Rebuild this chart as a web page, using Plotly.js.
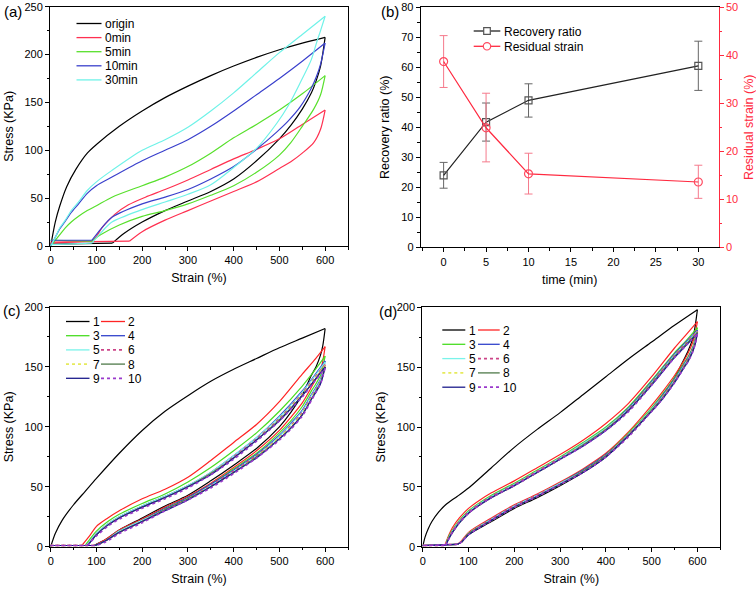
<!DOCTYPE html>
<html><head><meta charset="utf-8">
<script src="https://cdn.plot.ly/plotly-3.0.1.min.js"></script>
<style>html,body{margin:0;padding:0;background:#fff}#chart{width:756px;height:589px}</style>
</head><body><div id="chart"></div>
<script>
// ---------------- Panel (a) data ----------------
const aLabels = ['origin', '0min', '5min', '10min', '30min'];
const aColors = ['#000000', '#ff3050', '#58e02c', '#3a40cc', '#6ff2e8'];
const aOriginLoadX = [0,10,20,35,55,80,100,150,200,250,300,350,400,450,500,550,600];
const aOriginLoadY = [0,25,42,62,80,97,106,125,141,155,167,178,188,197,205,212,218];
const aOriginUnloadX = [590,580,570,550,525,500,450,400,350,300,250,200,160,135,0];
const aOriginUnloadY = [188,172,160,143,126,112,89,70,57,47,37,25,13,3,2];
const a0LoadX = [0,90,100,112,125,140,170,207,250,300,350,400,450,500,550,600];
const a0LoadY = [3,5,10,19,26,33,43,51,59,69,80,91,101,112,127,142];
const a0UnloadX = [590,575,550,525,500,450,400,350,300,250,200,172,0];
const a0UnloadY = [122,108,97,88,81,67,57,47,37,27,15,5,4];
const aLoadX = [0,10,20,32,45,61,80,100,134,200,250,300,350,400,450,500,550,600];
const a5LoadY = [0,6,12,19,25,31,37,42,51,63,72,83,97,113,127,142,159,178];
const a5UnloadX = [590,575,550,525,500,450,400,350,300,250,200,150,110,90,0];
const a5UnloadY = [158,143,125,108,95,77,63,53,44,37,31,22,12,5,6];
const a10LoadY = [0,9,18,26,35,44,55,63,72,89,100,111,125,141,158,175,193,212];
const aUnloadX = [590,581,570,545,520,494,450,400,350,300,250,200,134,110,90,0];
const a10UnloadY = [190,177,165,145,131,119,101,83,70,59,51,44,30,18,6,6];
const a30LoadY = [0,9,19,27,37,46,58,67,79,100,111,124,141,160,181,202,221,240];
const a30UnloadY = [225,212,195,170,147,128,102,82,64,54,46,38,25,14,3,1.5];

// ---------------- Panel (b) data ----------------
const times = [0, 5, 10, 30];
const recovery = [24.0, 41.7, 49.0, 60.5];
const recoveryErrPlus = [4.3, 6.4, 5.5, 8.2];
const recoveryErrMinus = [4.3, 6.3, 5.6, 8.2];
const residual = [38.7, 24.9, 15.3, 13.6];
const residualErrPlus = [5.4, 7.2, 4.3, 3.5];
const residualErrMinus = [5.4, 7.1, 4.2, 3.4];
const bLabels = ['Recovery ratio', 'Residual strain'];

// ---------------- Panels (c),(d) shared ----------------
const cycleLabels = ['1','2','3','4','5','6','7','8','9','10'];
const cycleColors = ['#000000','#ff2424','#48dd22','#3344cc','#7af3ea','#cc4488','#e6ea5c','#4f7a4a','#1c1c8c','#9a3acc'];
const cycleDash = ['solid','solid','solid','solid','solid','dot','dot','solid','solid','dot'];

// ---------------- Panel (c) data ----------------
const cFirstLoadX = [0,10,25,50,75,100,150,200,250,300,350,400,450,500,550,600];
const cFirstLoadY = [0,11,22,35,46,57,78,97,113,126,138,148,157,166,174,182];
const cLoadX = [85,100,125,150,200,250,300,350,400,450,500,550,575,600];
const cOnsetX = [68,75,78,78,80,80,80,80,80];
const cLoad2 = [9,17,24,30,40,48,58,72,87,102,121,144,155,167];
const cLoad3 = [6,13,21,27,36,44,54,66,80,95,113,134,146,159];
const cLoad4 = [4,11,19,25,34,42,51,62,76,91,109,130,142,155];
const cLoad5 = [4,11,19,25,34,42,51,62,76,91,108,129,141,154];
const cLoad6 = [3,10,18,24,33,41,50,61,75,90,107,128,140,152];
const cLoad7 = [3,10,18,24,33,41,50,61,74,89,106,127,139,151];
const cLoad8 = [3,10,18,24,33,41,50,61,74,89,106,126,138,150];
const cLoad9 = [3,10,18,24,33,41,50,60,74,89,105,126,138,150];
const cLoad10 = [3,9,17,23,32,40,49,60,73,88,105,125,137,149];
const cUnloadX = [595,590,580,570,550,525,500,450,400,350,300,250,200,150,120,100];
const cEndX = [95,92,93,94,94,95,95,95,95,95];
const cUnload1 = [168,160,150,143,127,112,100,82,68,55,43,34,24,14,6,2];
const cUnload2 = [155,147,140,133,120,108,97,80,66,53,42,33,23,14,6,2];
const cUnload3 = [150,143,136,130,117,105,95,78,65,52,41,32,22,13,5,1.5];
const cUnload4 = [146,140,133,127,114,103,93,77,64,52,41,32,22,13,5,1.5];
const cUnload5 = [145,139,132,126,113,102,92,76,63,51,40,31,22,13,5,1.5];
const cUnload6 = [144,138,131,125,112,101,91,76,63,51,40,31,21,12,5,1.5];
const cUnload7 = [143,137,130,124,111,100,91,75,62,50,40,31,21,12,5,1.5];
const cUnload8 = [143,137,130,123,110,99,90,75,62,50,40,31,21,12,5,1.5];
const cUnload9 = [142,136,129,123,110,99,90,74,62,50,39,30,21,12,5,1.5];
const cUnload10 = [142,136,129,122,109,98,89,74,61,49,39,30,20,11,4,1];
const cBaseY = 1;

// ---------------- Panel (d) data ----------------
const dFirstLoadX = [0,5,12,20,35,50,75,100,150,200,250,300,350,400,450,500,550,600];
const dFirstLoadY = [0,8,15,21,29,35,42,49,66,83,98,112,127,142,157,171,185,198];
const dLoadX = [55,65,80,100,125,150,200,250,300,350,400,450,500,550,575,600];
const dOnsetX = [48,50,50,50,50,50,50,50,50];
const dLoad2 = [8,16,24,32,39,45,55,66,77,89,103,120,142,166,177,188];
const dLoad3 = [7,14,22,30,37,43,53,64,75,87,100,117,139,162,172,183];
const dLoad4 = [6,13,21,29,36,42,52,63,74,86,99,116,138,161,171,181];
const dLoad5 = [6,13,21,29,36,42,52,63,74,86,99,115,137,160,170,180];
const dLoad6 = [6,13,21,29,36,42,52,63,74,85,98,115,137,160,170,180];
const dLoad7 = [6,12,20,28,35,41,51,62,73,85,98,114,136,159,169,179];
const dLoad8 = [6,12,20,28,35,41,51,62,73,85,98,114,136,159,169,179];
const dLoad9 = [5,12,20,28,35,41,51,62,73,84,97,114,135,158,168,178];
const dLoad10 = [5,12,20,28,35,41,51,62,73,84,97,113,135,158,168,178];
const dUnloadX = [595,590,580,570,550,525,500,450,400,350,300,250,200,150,100,85];
const dEndX = [75,76,76,76,76,76,76,76,76,76];
const dUnload1 = [184,174,164,156,141,127,114,93,75,62,51,41,32,21,10,4];
const dUnload2 = [178,171,162,155,143,130,118,96,78,65,54,44,35,24,12,5];
const dUnload3 = [174,167,159,153,141,128,116,95,77,64,53,43,34,23,11,4];
const dUnload4 = [172,166,158,152,140,127,115,94,77,64,53,43,34,23,11,4];
const dUnload5 = [171,165,157,151,139,126,115,94,76,63,53,43,34,23,11,4];
const dUnload6 = [171,165,157,151,139,126,114,94,76,63,52,43,34,23,11,4];
const dUnload7 = [170,164,156,150,138,125,114,93,76,63,52,42,33,22,11,4];
const dUnload8 = [170,164,156,150,138,125,114,93,76,63,52,42,33,22,11,4];
const dUnload9 = [169,163,155,149,137,124,113,93,75,62,52,42,33,22,10,4];
const dUnload10 = [169,163,155,149,137,124,113,92,75,62,52,42,33,22,10,4];
const dBaseY = 1;

// ---------------- build ----------------
const FONT = 'Liberation Sans, Arial, sans-serif';
const W = 756, H = 589;
const px = v => v / W;
const py = v => 1 - v / H;

const traces = [];
function seg(x, y, color, dash, xa, ya, width, spline) {
  if (x.length < 2) return;
  traces.push({x: x, y: y, type: 'scatter', mode: 'lines', xaxis: xa, yaxis: ya,
    line: {color: color, width: width || 1.2, dash: dash || 'solid', shape: spline ? 'spline' : 'linear', smoothing: 0.8},
    showlegend: false, hoverinfo: 'skip'});
}
// loop = loading (spline) + unloading (spline) with linear flat parts at start (fs points) and end (fe points)
function addLoop(loadX, loadY, unloadX, unloadY, fs, fe, color, dash, xa, ya, width) {
  const tip = loadX.length - 1;
  if (fs > 0) seg(loadX.slice(0, fs + 1), loadY.slice(0, fs + 1), color, dash, xa, ya, width, false);
  seg(loadX.slice(fs), loadY.slice(fs), color, dash, xa, ya, width, true);
  const ux = [loadX[tip]].concat(unloadX), uy = [loadY[tip]].concat(unloadY);
  const n = ux.length;
  seg(ux.slice(0, n - fe), uy.slice(0, n - fe), color, dash, xa, ya, width, true);
  if (fe > 0) seg(ux.slice(n - fe - 1), uy.slice(n - fe - 1), color, dash, xa, ya, width, false);
}

// Panel (a)
addLoop(aOriginLoadX, aOriginLoadY, aOriginUnloadX, aOriginUnloadY, 0, 1, aColors[0], 'solid', 'x', 'y');
addLoop(a0LoadX, a0LoadY, a0UnloadX, a0UnloadY, 1, 1, aColors[1], 'solid', 'x', 'y');
addLoop(aLoadX, a5LoadY, a5UnloadX, a5UnloadY, 0, 1, aColors[2], 'solid', 'x', 'y');
addLoop(aLoadX, a10LoadY, aUnloadX, a10UnloadY, 0, 1, aColors[3], 'solid', 'x', 'y');
addLoop(aLoadX, a30LoadY, aUnloadX, a30UnloadY, 0, 1, aColors[4], 'solid', 'x', 'y');

// Panel (b)
traces.push({x: times, y: recovery, type: 'scatter', mode: 'lines+markers', xaxis: 'x2', yaxis: 'y2',
  line: {color: '#222', width: 1.2},
  marker: {symbol: 'square-open', size: 7, color: '#555', line: {width: 1.2}},
  error_y: {type: 'data', symmetric: false, array: recoveryErrPlus, arrayminus: recoveryErrMinus,
    color: '#666', thickness: 1, width: 4}, showlegend: false});
traces.push({x: times, y: residual, type: 'scatter', mode: 'lines+markers', xaxis: 'x2', yaxis: 'y5',
  line: {color: '#ff2a40', width: 1.2},
  marker: {symbol: 'circle-open', size: 8, color: '#ff4a60', line: {width: 1.2}},
  error_y: {type: 'data', symmetric: false, array: residualErrPlus, arrayminus: residualErrMinus,
    color: '#f57a8c', thickness: 1, width: 4}, showlegend: false});

// Panels (c),(d)
function addCycles(firstX, firstY, loadX, onsetX, loads, unloadX, unloads, endX, baseY, endY, xa, ya) {
  for (let k = 0; k < 10; k++) {
    let lx, ly, fs;
    if (k === 0) { lx = firstX; ly = firstY; fs = 0; }
    else { lx = [0, onsetX[k-1]].concat(loadX); ly = [baseY, baseY].concat(loads[k]); fs = 1; }
    const ux = unloadX.concat([endX[k], 0]);
    const uy = unloads[k].concat([endY, baseY]);
    const w = cycleDash[k] === 'dot' ? 1.6 : 1.2;
    addLoop(lx, ly, ux, uy, fs, 1, cycleColors[k], cycleDash[k], xa, ya, w);
  }
}
addCycles(cFirstLoadX, cFirstLoadY, cLoadX, cOnsetX,
  [null, cLoad2, cLoad3, cLoad4, cLoad5, cLoad6, cLoad7, cLoad8, cLoad9, cLoad10],
  cUnloadX, [cUnload1, cUnload2, cUnload3, cUnload4, cUnload5, cUnload6, cUnload7, cUnload8, cUnload9, cUnload10],
  cEndX, cBaseY, cBaseY, 'x3', 'y3');
addCycles(dFirstLoadX, dFirstLoadY, dLoadX, dOnsetX,
  [null, dLoad2, dLoad3, dLoad4, dLoad5, dLoad6, dLoad7, dLoad8, dLoad9, dLoad10],
  dUnloadX, [dUnload1, dUnload2, dUnload3, dUnload4, dUnload5, dUnload6, dUnload7, dUnload8, dUnload9, dUnload10],
  dEndX, dBaseY, dBaseY + 1, 'x4', 'y4');

// ---------------- axes ----------------
function ax(extra) {
  return Object.assign({
    showline: true, linecolor: '#000', linewidth: 1, mirror: true,
    ticks: 'outside', ticklen: 4, tickwidth: 1, tickcolor: '#000',
    showgrid: false, zeroline: false, fixedrange: true,
    tickfont: {family: FONT, size: 11, color: '#000'}
  }, extra);
}
function minor(d, color) { return {dtick: d, ticks: 'outside', ticklen: 2.5, tickcolor: color || '#000', tickwidth: 1, showgrid: false}; }
function ttl(text, standoff, color) { return {text: text, standoff: standoff, font: {family: FONT, size: 12.5, color: color || '#000'}}; }

const layout = {
  width: W, height: H, margin: {l: 0, r: 0, t: 0, b: 0},
  paper_bgcolor: '#fff', plot_bgcolor: '#fff', showlegend: false,
  font: {family: FONT, color: '#000'},
  xaxis: ax({domain: [px(50), px(348)], range: [-1.5, 650], anchor: 'y', tick0: 0, dtick: 100, minor: minor(50), title: ttl('Strain (%)', 8)}),
  yaxis: ax({domain: [py(246), py(6.7)], range: [0, 250], anchor: 'x', tick0: 0, dtick: 50, minor: minor(25), title: ttl('Stress (KPa)', 8)}),
  xaxis2: ax({domain: [px(420.7), px(718.7)], range: [-2.7, 32.4], anchor: 'y2', tick0: 0, dtick: 5, minor: minor(2.5), title: ttl('time (min)', 8)}),
  yaxis2: ax({domain: [py(247.3), py(7.3)], range: [0, 80], anchor: 'x2', mirror: false, tick0: 0, dtick: 10, minor: minor(5), title: ttl('Recovery ratio (%)', 8)}),
  yaxis5: ax({overlaying: 'y2', side: 'right', anchor: 'x2', range: [0, 50], mirror: false, linecolor: '#ff2a40', tickcolor: '#ff2a40',
    tick0: 0, dtick: 10, minor: minor(5, '#ff2a40'), tickfont: {family: FONT, size: 11, color: '#ff2a40'}, title: ttl('Residual strain (%)', 8, '#ff2a40')}),
  xaxis3: ax({domain: [px(50), px(348)], range: [-1.5, 650], anchor: 'y3', tick0: 0, dtick: 100, minor: minor(50), title: ttl('Strain (%)', 8)}),
  yaxis3: ax({domain: [py(546.7), py(307)], range: [0, 200], anchor: 'x3', tick0: 0, dtick: 50, minor: minor(25), title: ttl('Stress (KPa)', 8)}),
  xaxis4: ax({domain: [px(422.3), px(720.3)], range: [-1, 650], anchor: 'y4', tick0: 0, dtick: 100, minor: minor(50), title: ttl('Strain (%)', 8)}),
  yaxis4: ax({domain: [py(546.7), py(307.3)], range: [0, 200], anchor: 'x4', tick0: 0, dtick: 50, minor: minor(25), title: ttl('Stress (KPa)', 8)}),
  shapes: [], annotations: []
};

// panel letters
[['(a)', 1.5, 12], ['(b)', 379, 12], ['(c)', 1, 310], ['(d)', 377, 311]].forEach(p => {
  layout.annotations.push({text: p[0], xref: 'paper', yref: 'paper', x: px(p[1]), y: py(p[2]),
    xanchor: 'left', yanchor: 'middle', showarrow: false, font: {family: FONT, size: 15, color: '#000'}});
});

function legendItem(x0, x1, yPix, color, dash, tx, label, size) {
  layout.shapes.push({type: 'line', xref: 'paper', yref: 'paper', x0: px(x0), x1: px(x1), y0: py(yPix), y1: py(yPix),
    line: {color: color, width: dash === 'dot' ? 1.8 : 1.3, dash: dash}});
  layout.annotations.push({text: label, xref: 'paper', yref: 'paper', x: px(tx), y: py(yPix + 0.5),
    xanchor: 'left', yanchor: 'middle', showarrow: false, font: {family: FONT, size: size, color: '#000'}});
}
// legend (a)
aLabels.forEach((lab, i) => legendItem(76.5, 101.5, 23.5 + i * 14.1, aColors[i], 'solid', 103, lab, 12));
// legend (b)
legendItem(473.7, 500.3, 31, '#222', 'solid', 502, bLabels[0], 12);
legendItem(473.7, 500.3, 46.3, '#ff2a40', 'solid', 502, bLabels[1], 12);
layout.shapes.push({type: 'rect', xref: 'paper', yref: 'paper', x0: px(483.7), x1: px(490.3), y0: py(27.7), y1: py(34.3),
  fillcolor: '#fff', line: {color: '#555', width: 1.2}});
layout.shapes.push({type: 'circle', xref: 'paper', yref: 'paper', x0: px(483.3), x1: px(490.7), y0: py(42.6), y1: py(50),
  fillcolor: '#fff', line: {color: '#ff4a60', width: 1.2}});
// legends (c),(d): two columns
cycleLabels.forEach((lab, i) => {
  const col = i % 2, row = Math.floor(i / 2);
  const cy = 321.5 + row * 14.2;
  if (col === 0) legendItem(66, 89.5, cy, cycleColors[i], cycleDash[i], 90.5, lab, 12);
  else legendItem(101, 125, cy, cycleColors[i], cycleDash[i], 126, lab, 12);
  const dy = 330 + row * 14.3;
  if (col === 0) legendItem(442.3, 465.3, dy, cycleColors[i], cycleDash[i], 467, lab, 12);
  else legendItem(478, 499.7, dy, cycleColors[i], cycleDash[i], 500.5, lab, 12);
});

Plotly.newPlot('chart', traces, layout, {staticPlot: true, displayModeBar: false});
</script></body></html>
